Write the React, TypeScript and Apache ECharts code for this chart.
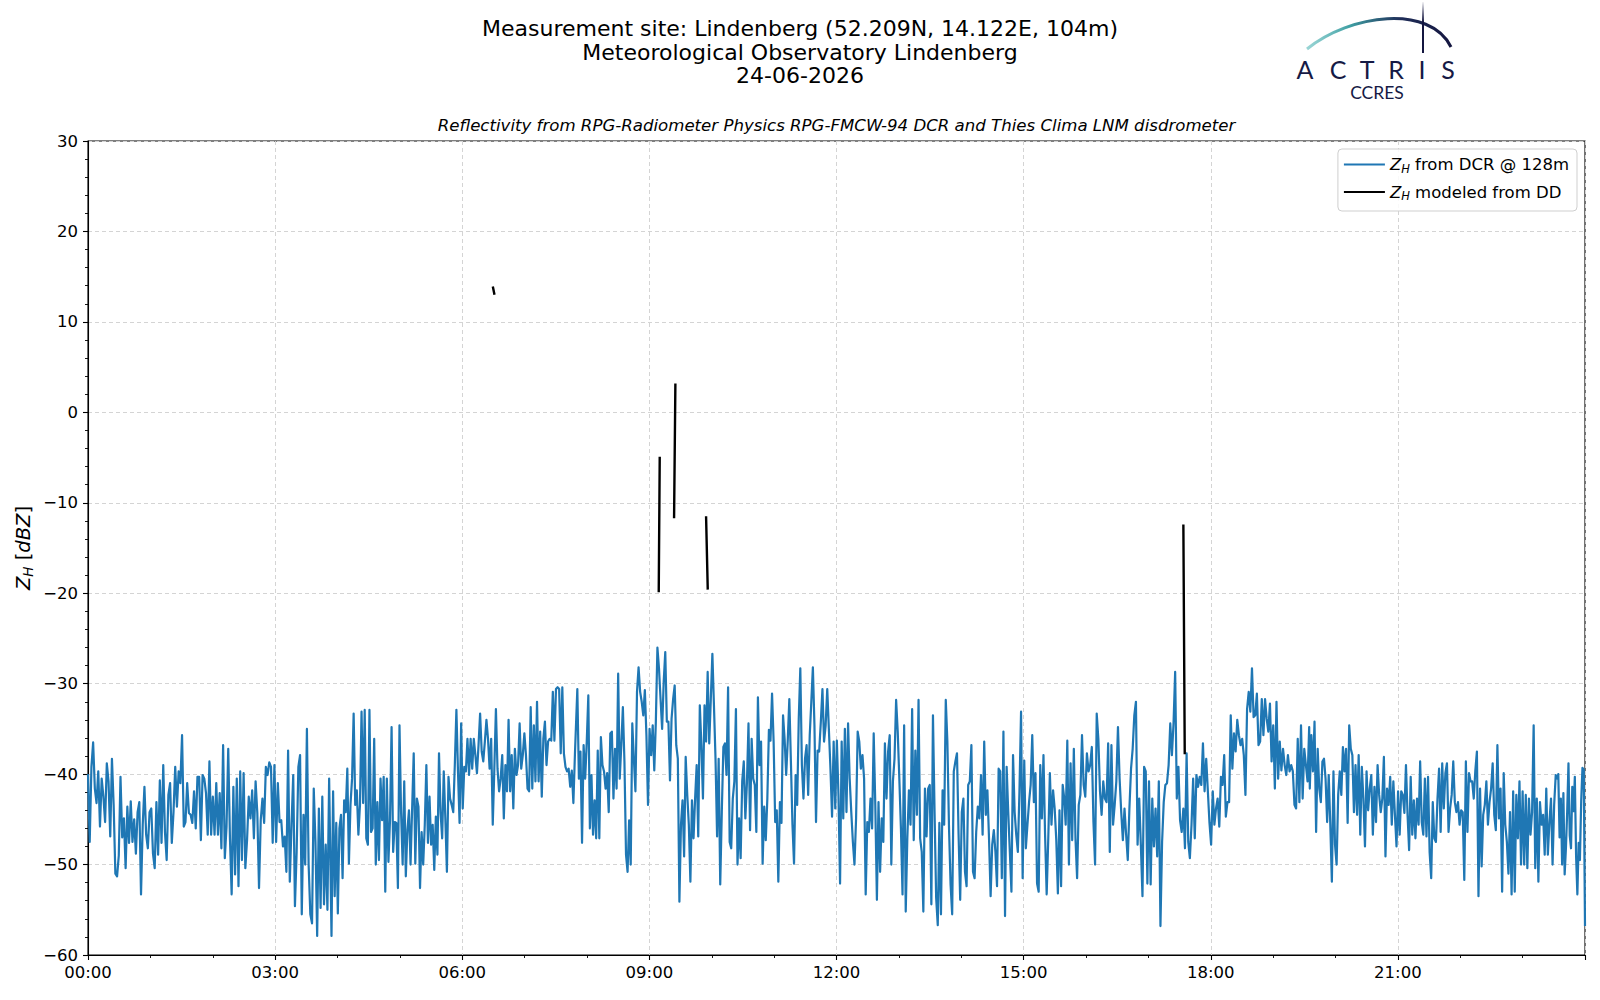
import React, { useEffect, useRef } from "react";
import * as echarts from "echarts";

// Time spans (hours) covered by each block of DCR readings
const dcrSpans: [number, number][] = [
  [0, 3.866], [3.904, 7.807], [7.845, 11.722], [11.749, 15.652],
  [15.674, 19.578], [19.588, 23.556], [23.572, 24],
];

const dcrA = [-40, -47.5, -39.2, -36.5, -41.6, -43.2, -39.7, -45.8, -40.5, -42.5, -45.3, -38.8, -40.8, -46.9, -38.3, -43.4, -51, -51.3, -49, -40.3, -47, -44.9, -50.4, -43.6, -47.6, -43, -47.5, -45, -48.8, -44.2, -43.1, -53.3, -45.6, -41.4, -46.7, -48.2, -44.2, -43.8, -48.8, -50.4, -43.1, -48.9, -40.7, -47.6, -39, -46.4, -49.5, -42.3, -41, -47.6, -44.2, -39.2, -43.6, -39.7, -41, -35.7, -45.8, -45.3, -41, -44.3, -44.5, -45.4, -41.9, -46, -40.3, -40.3, -47.3, -40.1, -40.5, -42.1, -46.7, -38.6, -46.7, -42.5, -46.7, -41, -46.7, -42.1, -48.2, -36.8, -49.3, -45.8, -37.2, -47.1, -53.3, -41.4, -51.1, -40.5, -52.4, -39.7, -49.5, -39.9, -50.4, -47.3, -42.5, -44.9, -41.8, -47.1, -40.8, -44.3, -52.6, -45.1, -42.7, -45.4, -39.2, -40.1, -38.7, -39.2, -47.6, -39, -47.5, -41, -45.3, -45.1, -48, -46.9, -50.8, -37.4, -51.9, -45.6, -40.1, -54.6, -48.6, -39.2, -37.9, -55.5, -44.5, -50, -35, -50, -55.5, -56.5, -41.6, -47.5, -57.9, -43.8, -54.8, -42.5, -54.4, -47.8, -55, -40.5];

const dcrB = [-57.9, -41.9, -53.5, -45.4, -55.4, -46, -44.5, -51.5, -42.9, -44.2, -39.4, -49.9, -43.4, -40.5, -33.3, -43.4, -41.8, -46.7, -43.4, -33.1, -43.2, -32.9, -47.1, -47.8, -32.9, -46.4, -46, -36.1, -50, -43.1, -49.5, -40.5, -45.1, -40.3, -53, -40.5, -49.7, -45.1, -34.8, -48.6, -45.3, -45.4, -52.6, -34.6, -44.2, -50, -40.8, -51.3, -46.2, -44, -50, -43.8, -37.7, -49.9, -42.7, -43.6, -52.6, -46.4, -50, -45.6, -39, -47.6, -42.5, -47.8, -45.6, -50.6, -44.7, -48.9, -37.7, -44.3, -47.1, -39.7, -44.9, -50.8, -40.3, -42.7, -43.4, -44.2, -39, -32.9, -39.7, -45.4, -34.4, -43.8, -39.2, -39.7, -36.1, -40.1, -36.1, -39.4, -36.1, -37.9, -39.9, -36.8, -33.3, -37.5, -38.6, -36.4, -34, -36.1, -39.4, -36.1, -45.6, -39.4, -32.8, -39.4, -41.9, -40.5, -37.9, -44.9, -39, -41.9, -34, -41.9, -37.9, -43.8, -37.2, -40.1, -39, -34.4, -39.4, -37.9, -35.5, -37.9, -41.6, -41.9, -32.6, -41.6, -34.6, -40.8, -32, -40.8, -35.3, -42.5, -36.1, -34.2, -39, -36.4, -36.1, -36.3, -30.9, -36.3, -30.6, -30.4, -30.6, -37.7, -30.4, -37.7, -39.2, -39.7, -39.4, -41.4, -39.6, -43.2, -37.7];

const dcrC = [-30.6, -40.5, -37.5, -47.6, -36.8, -40.5, -36.4, -31.3, -46, -40.1, -46.7, -42.9, -47.1, -37.4, -47.1, -35.9, -39, -39.7, -41.6, -39.9, -44.2, -35.5, -35.3, -42.7, -37.2, -41.6, -28.9, -40.5, -36.8, -32.6, -38.6, -48.9, -50.8, -45.1, -50, -34.4, -38.3, -41.9, -30.9, -28.2, -30.9, -32, -33.5, -30.7, -35.7, -43.4, -35, -37.9, -34.6, -39.6, -34.2, -26, -28.3, -31.7, -35, -29.8, -26.5, -34.2, -34.2, -40.7, -33.9, -31.7, -30.2, -36.8, -38.3, -54.1, -45.6, -42.9, -49.1, -38.1, -42.3, -45.6, -51.9, -42.9, -47.1, -42.7, -39, -46.9, -32.4, -36.8, -42.7, -32.4, -36.4, -28.7, -36.6, -31.7, -26.7, -32.4, -38.3, -46.9, -38.3, -52.2, -44.2, -37, -36.6, -40.1, -30.4, -47.5, -48.2, -42.7, -40.8, -32.8, -50, -44.9, -49.3, -40.8, -38.6, -44.9, -41, -34.4, -46.2, -36.1, -40.5, -41.2, -46.4, -31.5, -39, -36.4, -49.9, -43.6, -47.3, -42.7, -35.1, -36.3, -31.1, -36.4, -45.3, -44, -51.9, -43.1, -45.4, -33.5, -36.1, -40.1, -36.3, -31.7, -38.6, -45.6, -49.9, -40.1, -43.4, -33.9, -28.3, -39, -42.7, -38.3, -36.8, -42.3, -35.7, -32, -28.2, -34.6, -45.3, -37.4, -37.5];

const dcrD = [-34.2, -30.6, -36.4, -34.6, -30.6, -35, -39.4, -44.7, -36.4, -43.8, -36.3, -42.3, -52.1, -36.4, -44.9, -35, -44.2, -34.4, -40.5, -44.2, -47.5, -50, -44.9, -35.3, -36.4, -39.4, -37.9, -40.5, -53.3, -45.3, -46.4, -42.7, -46, -35.5, -43.4, -53.9, -43.1, -50.8, -44.9, -47.5, -36.6, -42.7, -37.5, -35.7, -50, -40.8, -38.3, -31.8, -35.3, -40.5, -46, -53.3, -34.6, -55.2, -47.1, -41.8, -45.6, -32.8, -47.3, -37.4, -44.5, -31.8, -47.1, -48.6, -55.2, -41.6, -46.9, -41.6, -41.2, -54.4, -33.5, -44.2, -53.7, -56.7, -45.4, -55.5, -41.8, -45.6, -31.8, -36.4, -45.8, -52.2, -55.5, -39.7, -38.6, -37.7, -46.7, -53.9, -44.2, -42.7, -50.8, -52.4, -41.2, -40.8, -36.8, -50.8, -51.5, -46.4, -43.6, -44.9, -40.1, -46.7, -36.4, -44.5, -41.8, -47.1, -53.5, -47.8, -46.2, -48.6, -52.4, -39.4, -39.7, -51.5, -35.3, -55.7, -39.2, -44.2, -48.6, -53, -37.9, -44.2, -46.7, -48.6, -41.9, -33.1, -51.5, -38.5, -48.2, -45.6, -43.1, -41.2, -35.7, -43.1, -39.9, -52.1, -53, -39, -44.9, -37.9, -46.7, -53.3, -47.1, -39.9, -45.6, -41.8, -43.8, -47.3, -53.2, -44, -52.4, -41.2, -42.7];

const dcrE = [-45.6, -36.3, -50, -38.8, -47.3, -37.2, -47.1, -51.5, -43.4, -42.3, -35.7, -41.2, -42.5, -37.7, -39.7, -39, -37, -45.3, -50, -33.3, -36.1, -41.9, -44.5, -40.8, -42.7, -43.1, -36.6, -48.6, -36.8, -45.6, -43.4, -40.8, -34.8, -40.5, -44.2, -47.3, -43.8, -46.7, -49.5, -43.8, -39.4, -37.2, -33.5, -32, -47.8, -42.7, -47.8, -53.5, -39.2, -39.7, -52.1, -40.8, -52.2, -42.7, -48, -43.8, -49.1, -40.8, -56.8, -47.5, -43.1, -41.2, -41, -39, -34.4, -37.9, -34.4, -28.7, -42.7, -39.2, -45.1, -46.4, -43.8, -48.2, -37.7, -47.5, -49.3, -45.6, -40.5, -47.1, -40.1, -41.4, -40.3, -41.2, -36.6, -41.9, -38.3, -41.9, -45.4, -47.8, -41.9, -45.6, -43.8, -42.7, -45.8, -40.3, -41.2, -37.9, -44.7, -43.1, -43.1, -33.5, -39.4, -35.5, -37.5, -34, -35.7, -36.8, -36.1, -37.9, -42.3, -32.8, -30.9, -33.1, -28.3, -33.7, -33.5, -31.1, -36.8, -36.4, -31.7, -35.7, -31.7, -33.9, -35.3, -32.2, -38.6, -34.6, -41.6, -32, -40.5, -36.4, -39.6, -37.2, -39, -40.1, -37.9, -39.7, -39, -39.7, -43.4, -43.8, -36.1, -43.1, -34.6, -42.7, -37.2, -39, -40.8, -34.8];

const dcrF = [-41.6, -35.7, -39.7, -34.2, -46.4, -37.2, -41.6, -43.1, -38.6, -38.3, -40.5, -45.3, -40.1, -45.6, -51.9, -39.7, -47.8, -50, -42.3, -39.7, -42.3, -37, -39.7, -37.2, -45.4, -34.6, -37.2, -37.9, -44.2, -39, -44.5, -37.9, -46.7, -39.2, -42.7, -48, -39.7, -44, -41.6, -40.1, -46.7, -41.4, -45.3, -39, -42.3, -44.2, -42.7, -38.1, -49.1, -41.6, -43.4, -40.3, -45.6, -40.8, -44.5, -48, -41.9, -46.7, -41.9, -42.3, -44.3, -39, -44.5, -48.4, -40.3, -46.7, -42.9, -47.1, -42.7, -45.6, -38.6, -45.3, -46.7, -40.5, -46.9, -40.3, -48.6, -51.5, -43.1, -47.1, -47.5, -42.7, -39.4, -46.4, -38.8, -43.8, -39.9, -38.8, -46.4, -43.8, -42.3, -38.6, -43.1, -44.2, -43.1, -45.6, -44, -44.2, -51.7, -38.6, -46.4, -39.9, -40.8, -40.8, -42.7, -39.6, -37.5, -53.5, -41.6, -50.2, -44.5, -43.4, -40.8, -45.6, -43.1, -41.6, -38.8, -44.5, -46.2, -36.8, -44.9, -41.6, -53, -39.9, -45.6, -47.5, -51, -44.2, -53.3, -41.9, -53, -42.3, -47.1, -40.8, -50, -41.9, -50, -42.3, -50.4, -42.7, -46.7, -44.2, -34.6, -50.4, -42.7, -51.9, -43.1, -45.6, -44.5, -48.9, -41.6, -48.9, -45.3, -42.7, -50, -43.4, -40.1, -40.5];

const dcrG = [-40, -47, -42.7, -50, -42.1, -51.1, -48.2, -44.1, -38.8, -46.8, -48.2, -41.4, -44.1, -40.3, -49.1, -53.3, -47.6, -49.5, -43, -39.3, -39.5, -56.8];

// Disdrometer-modelled reflectivity: short segments [hour, dBZ]
const ddSegments: [number, number][][] = [
  [[6.49, 13.9], [6.517, 13.0]],
  [[9.15, -19.9], [9.166, -4.9]],
  [[9.396, -11.7], [9.417, 3.2]],
  [[9.909, -11.5], [9.936, -19.6]],
  [[17.561, -12.4], [17.583, -37.8]],
];

const titleLines = [
  "Measurement site: Lindenberg (52.209N, 14.122E, 104m)",
  "Meteorological Observatory Lindenberg",
  "24-06-2026",
];
const subtitle =
  "Reflectivity from RPG-Radiometer Physics RPG-FMCW-94 DCR and Thies Clima LNM disdrometer";
const logoLetters = ["A", "C", "T", "R", "I", "S"];

const FONT = "DejaVu Sans";

function spread(values: number[], span: [number, number]) {
  const [t0, t1] = span;
  const n = values.length;
  return values.map((v, i) => [t0 + ((t1 - t0) * i) / (n - 1), v]);
}

const dcrData = [dcrA, dcrB, dcrC, dcrD, dcrE, dcrF, dcrG].flatMap((b, i) =>
  spread(b, dcrSpans[i])
);

const ddData: any[] = [];
ddSegments.forEach((seg, i) => {
  if (i > 0) {
    const prev = ddSegments[i - 1];
    ddData.push([(prev[prev.length - 1][0] + seg[0][0]) / 2, "-"]);
  }
  seg.forEach((p) => ddData.push(p));
});

const richLegend = {
  i: { fontFamily: FONT, fontStyle: "italic", fontSize: 16.5, color: "#000", lineHeight: 20, verticalAlign: "middle" },
  s: { fontFamily: FONT, fontStyle: "italic", fontSize: 11.5, color: "#000", lineHeight: 20, verticalAlign: "bottom" },
  n: { fontFamily: FONT, fontSize: 16.5, color: "#000", lineHeight: 20, verticalAlign: "middle" },
};

const richYLabel = {
  i: { fontFamily: FONT, fontStyle: "italic", fontSize: 19.5, color: "#000", lineHeight: 24, verticalAlign: "middle" },
  s: { fontFamily: FONT, fontStyle: "italic", fontSize: 13.5, color: "#000", lineHeight: 24, verticalAlign: "bottom" },
  n: { fontFamily: FONT, fontSize: 19.5, color: "#000", lineHeight: 24, verticalAlign: "middle" },
};

export default function App() {
  const ref = useRef<HTMLDivElement>(null);
  useEffect(() => {
    if (!ref.current) return;
    const chart = echarts.init(ref.current, undefined, { renderer: "svg" });
    const pad = (h: number) => (h < 10 ? "0" + h : "" + h);
    const logoX = [1305, 1338, 1367, 1396, 1422, 1448];
    const graphic: any[] = [
      ...titleLines.map((t, i) => ({
        type: "text",
        x: 800,
        y: 28.8 + i * 23.2,
        style: { text: t, fill: "#000", fontFamily: FONT, fontSize: 22, align: "center", verticalAlign: "middle" },
      })),
      {
        type: "text",
        x: 836.5,
        y: 125.5,
        style: { text: subtitle, fill: "#000", fontFamily: FONT, fontStyle: "italic", fontSize: 16.6, align: "center", verticalAlign: "middle" },
      },
      {
        type: "text",
        x: 23,
        y: 548,
        rotation: Math.PI / 2,
        style: {
          text: "{i|Z}{s|H}{n| [}{i|dBZ}{n|]}",
          rich: richYLabel,
          align: "center",
          verticalAlign: "middle",
        },
      },
      // ACTRIS logo
      {
        type: "bezierCurve",
        shape: { x1: 1307, y1: 49, cpx1: 1350, cpy1: 14, cpx2: 1430, cpy2: 4, x2: 1451, y2: 47 },
        style: {
          fill: "none",
          lineWidth: 3,
          stroke: {
            type: "linear", x: 1307, y: 0, x2: 1451, y2: 0, global: true,
            colorStops: [
              { offset: 0, color: "rgba(110,195,195,0.7)" },
              { offset: 0.3, color: "#3f9fa3" },
              { offset: 0.65, color: "#1f2d58" },
              { offset: 1, color: "#141640" },
            ],
          },
        },
      },
      {
        type: "line",
        shape: { x1: 1423, y1: 2, x2: 1423, y2: 53 },
        style: {
          lineWidth: 2,
          stroke: {
            type: "linear", x: 0, y: 2, x2: 0, y2: 53, global: true,
            colorStops: [
              { offset: 0, color: "rgba(20,22,64,0.05)" },
              { offset: 0.4, color: "#141640" },
              { offset: 1, color: "#141640" },
            ],
          },
        },
      },
      ...logoLetters.map((l, i) => ({
        type: "text",
        x: logoX[i],
        y: 69,
        style: { text: l, fill: "#161a45", fontFamily: "Lato", fontSize: 25, align: "center", verticalAlign: "middle" },
      })),
      {
        type: "text",
        x: 1377,
        y: 92.5,
        style: { text: "CCRES", fill: "#161a45", fontFamily: "Lato", fontSize: 17.5, align: "center", verticalAlign: "middle" },
      },
    ];

    chart.setOption({
      animation: false,
      backgroundColor: "#fff",
      grid: { left: 88, right: 15, top: 141, bottom: 45, show: true, borderColor: "#000", borderWidth: 1.1, backgroundColor: "transparent" },
      legend: {
        data: ["dcr", "dd"],
        orient: "vertical",
        right: 23,
        top: 149,
        icon: "rect",
        itemWidth: 41,
        itemHeight: 2.2,
        itemGap: 9,
        itemStyle: { borderWidth: 0 },
        selectedMode: false,
        backgroundColor: "rgba(255,255,255,0.85)",
        borderColor: "#cfcfcf",
        borderWidth: 1,
        borderRadius: 4,
        padding: [7, 8, 9, 6],
        formatter: (n: string) =>
          n === "dcr" ? "{i|Z}{s|H}{n| from DCR @ 128m}" : "{i|Z}{s|H}{n| modeled from DD}",
        textStyle: { fontFamily: FONT, fontSize: 16.5, color: "#000", rich: richLegend },
      },
      xAxis: {
        type: "value",
        min: 0,
        max: 24,
        interval: 3,
        axisLine: { show: true, onZero: false, lineStyle: { color: "#000", width: 1.1 } },
        axisTick: { show: true, inside: false, length: 5, lineStyle: { color: "#000", width: 1.1 } },
        minorTick: { show: true, splitNumber: 3, length: 3, lineStyle: { color: "#000", width: 0.9 } },
        axisLabel: {
          show: true,
          margin: 9,
          color: "#000",
          fontFamily: FONT,
          fontSize: 16.5,
          showMaxLabel: false,
          formatter: (v: number) => pad(v) + ":00",
        },
        splitLine: { show: true, lineStyle: { color: "#d4d4d4", width: 1, type: [4, 3] } },
      },
      yAxis: {
        type: "value",
        min: -60,
        max: 30,
        interval: 10,
        axisLine: { show: true, onZero: false, lineStyle: { color: "#000", width: 1.1 } },
        axisTick: { show: true, inside: false, length: 5, lineStyle: { color: "#000", width: 1.1 } },
        minorTick: { show: true, splitNumber: 5, length: 3, lineStyle: { color: "#000", width: 0.9 } },
        axisLabel: {
          show: true,
          margin: 10,
          color: "#000",
          fontFamily: FONT,
          fontSize: 16.5,
          formatter: (v: number) => String(v).replace("-", "\u2212"),
        },
        splitLine: { show: true, lineStyle: { color: "#d4d4d4", width: 1, type: [4, 3] } },
      },
      series: [
        {
          name: "dcr",
          type: "line",
          data: dcrData,
          symbol: "none",
          z: 2,
          itemStyle: { color: "#1f77b4" },
          lineStyle: { color: "#1f77b4", width: 2.2, join: "round" },
        },
        {
          name: "dd",
          type: "line",
          data: ddData,
          symbol: "none",
          connectNulls: false,
          z: 3,
          itemStyle: { color: "#000" },
          lineStyle: { color: "#000", width: 2.4, join: "round" },
        },
      ],
      graphic,
    });
    return () => chart.dispose();
  }, []);
  return (
    <div
      ref={ref}
      style={{ position: "fixed", left: 0, top: 0, width: 1600, height: 1000, background: "#fff" }}
    />
  );
}
